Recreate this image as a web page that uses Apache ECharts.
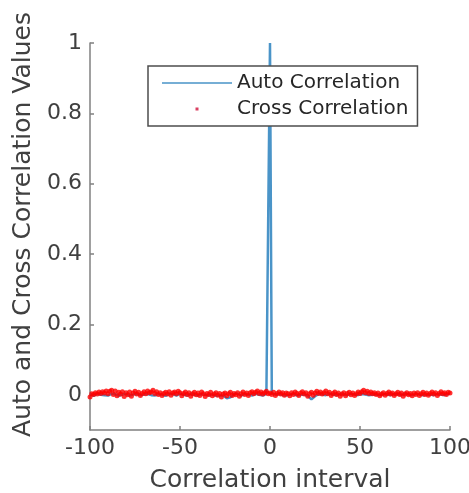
<!DOCTYPE html>
<html>
<head>
<meta charset="utf-8">
<script src="https://cdn.jsdelivr.net/npm/echarts@6/dist/echarts.min.js"></script>
<style>html,body{margin:0;padding:0;background:#fff;}#c{width:469px;height:493px;}</style>
</head>
<body>
<div id="c"></div>
<script>
var lagMin = -100, lagMax = 100;
var xTicks = [-100, -50, 0, 50, 100];
var yTicks = [0, 0.2, 0.4, 0.6, 0.8, 1];

var autoCorr = [
 0.004, 0.002,-0.003, 0.001, 0.003,-0.002, 0.000, 0.002,-0.001, 0.003,
-0.002, 0.001, 0.003,-0.001, 0.002, 0.000,-0.003, 0.002, 0.001,-0.002,
 0.003, 0.000,-0.002, 0.002, 0.001,-0.003, 0.002, 0.000,-0.001, 0.003,
 0.001,-0.002, 0.002, 0.000,-0.001, 0.003,-0.002, 0.001, 0.002,-0.001,
 0.000, 0.002,-0.003, 0.001, 0.003,-0.001, 0.002, 0.000,-0.002, 0.001,
 0.003,-0.001, 0.000, 0.002,-0.002, 0.001, 0.003,-0.001, 0.000, 0.002,
-0.002, 0.001, 0.002,-0.001, 0.000, 0.003,-0.002, 0.001, 0.001,-0.001,
-0.003, 0.001,-0.002, 0.000,-0.002,-0.005,-0.010,-0.013,-0.007,-0.002,
 0.002,-0.001, 0.003, 0.000,-0.002, 0.001, 0.002,-0.001, 0.000, 0.002,
-0.002, 0.001, 0.003,-0.001, 0.000, 0.002,-0.002, 0.001, 0.003, 0.004,
 1.000, 0.004, 0.003, 0.001,-0.002, 0.002, 0.000,-0.001, 0.001,-0.002,
 0.002, 0.000,-0.001, 0.003, 0.001,-0.002, 0.002, 0.000,-0.001, 0.001,
 0.001,-0.003,-0.008,-0.013,-0.010,-0.004, 0.000, 0.002,-0.001, 0.001,
 0.002,-0.001, 0.000, 0.003,-0.002, 0.001, 0.002,-0.001, 0.000, 0.002,
-0.002, 0.001, 0.003,-0.001, 0.000, 0.002,-0.002, 0.001, 0.002,-0.001,
 0.000, 0.002,-0.003, 0.001, 0.003,-0.001, 0.002, 0.000,-0.002, 0.001,
 0.003,-0.001, 0.000, 0.002,-0.002, 0.001, 0.003,-0.001, 0.000, 0.002,
-0.002, 0.001, 0.002,-0.001, 0.000, 0.003,-0.002, 0.001, 0.002,-0.001,
 0.000, 0.002,-0.003, 0.001, 0.003,-0.001, 0.002, 0.000,-0.002, 0.001,
 0.003,-0.001, 0.000, 0.002,-0.002, 0.001, 0.003,-0.001, 0.000, 0.002,
 0.003
];

var crossCorr = [
-0.006, 0.003, 0.001, 0.006, 0.002, 0.008, 0.004, 0.009, 0.005, 0.011,
 0.003, 0.010, 0.013, 0.001, 0.011,-0.003, 0.007, 0.002, 0.009,-0.005,
 0.006, 0.000, 0.008,-0.004, 0.005, 0.010, 0.002, 0.007,-0.002, 0.004,
 0.009, 0.003, 0.011, 0.006, 0.008, 0.013, 0.004, 0.009, 0.001, 0.006,
-0.002, 0.004, 0.007, 0.002, 0.009,-0.001, 0.005, 0.008, 0.003, 0.010,
 0.006,-0.003, 0.004, 0.008, 0.001, 0.006,-0.004, 0.003, 0.007, 0.000,
 0.005,-0.002, 0.008, 0.003,-0.005, 0.004, 0.001, 0.007,-0.003, 0.002,
 0.006,-0.001, 0.004,-0.006, 0.002, 0.005,-0.003, 0.003, 0.007,-0.002,
 0.004, 0.000, 0.006,-0.004, 0.003, 0.008, 0.001, 0.005,-0.002, 0.006,
 0.009, 0.003, 0.007, 0.011, 0.004, 0.008, 0.002, 0.006, 0.010, 0.003,
 0.005, 0.001, 0.007,-0.002, 0.004, 0.008, 0.002, 0.006,-0.001, 0.005,
 0.003,-0.003, 0.006, 0.001, 0.008, 0.004,-0.002, 0.005, 0.009, 0.002,
 0.006,-0.004, 0.003, 0.007,-0.001, 0.005, 0.010, 0.004, 0.008, 0.002,
 0.006, 0.011, 0.003, 0.007,-0.002, 0.004, 0.008, 0.001, 0.005,-0.004,
 0.002, 0.006,-0.003, 0.004, 0.007, 0.000, 0.005,-0.002, 0.003, 0.008,
 0.004, 0.009, 0.013, 0.006, 0.010, 0.004, 0.008, 0.003, 0.006, 0.001,
 0.005,-0.003, 0.002, 0.006,-0.001, 0.004, 0.008, 0.002, 0.005,-0.002,
 0.003, 0.007, 0.001, 0.005,-0.004, 0.002, 0.006, 0.000, 0.004,-0.003,
 0.005, 0.001, 0.006,-0.002, 0.003, 0.007, 0.001, 0.005,-0.001, 0.004,
 0.008, 0.002, 0.006,-0.002, 0.004, 0.009, 0.003, 0.006, 0.001, 0.007,
 0.005
];

var lags = [];
for (var k = lagMin; k <= lagMax; k++) lags.push(k);
var autoData = lags.map(function (l, i) { return [l, autoCorr[i]]; });
var crossData = lags.map(function (l, i) { return [l, crossCorr[i]]; });

var font = 'DejaVu Sans';
var axisColor = '#808080';
var textColor = '#404040';
var blue = '#4a94c8';

var chart = echarts.init(document.getElementById('c'), null, { renderer: 'canvas' });
chart.setOption({
  animation: false,
  backgroundColor: '#ffffff',
  textStyle: { fontFamily: font },
  grid: { left: 90, right: 19, top: 43, bottom: 63, containLabel: false, outerBoundsMode: 'none' },
  legend: {
    orient: 'vertical',
    left: 148,
    top: 66,
    padding: [6, 9, 6, 14],
    itemWidth: 70,
    itemHeight: 14,
    itemGap: 4,
    backgroundColor: '#ffffff',
    borderColor: '#4d4d4d',
    borderWidth: 1.5,
    borderRadius: 0,
    textStyle: { fontFamily: font, fontSize: 20, color: '#262626', lineHeight: 22 },
    data: [
      { name: 'Auto Correlation',
        icon: 'path://M0,0 L0.01,0.01 Z M0,6.2 L70,6.2 L70,7.8 L0,7.8 Z M70,14 L69.99,13.99 Z',
        itemStyle: { color: blue } },
      { name: 'Cross Correlation',
        icon: 'path://M0,0 L0.01,0.01 Z M33.5,5.5 L36.5,5.5 L36.5,8.5 L33.5,8.5 Z M70,14 L69.99,13.99 Z',
        itemStyle: { color: '#d0103a' } }
    ]
  },
  xAxis: {
    type: 'value',
    min: lagMin,
    max: lagMax,
    interval: 50,
    name: 'Correlation interval',
    nameLocation: 'middle',
    nameGap: 38,
    nameTextStyle: { fontFamily: font, fontSize: 25, color: textColor },
    axisLine: { onZero: false, lineStyle: { color: axisColor, width: 1.5 } },
    axisTick: { show: true, inside: true, length: 4, lineStyle: { color: axisColor, width: 1.5 }, customValues: xTicks },
    axisLabel: { fontFamily: font, fontSize: 22, color: textColor, margin: 7, customValues: xTicks },
    splitLine: { show: false }
  },
  yAxis: {
    type: 'value',
    min: -0.1,
    max: 1,
    name: 'Auto and Cross Correlation Values',
    nameLocation: 'middle',
    nameGap: 52,
    nameTextStyle: { fontFamily: font, fontSize: 25, color: textColor, padding: [0, 0, 0, 24] },
    axisLine: { show: true, onZero: false, lineStyle: { color: axisColor, width: 1.5 } },
    axisTick: { show: true, inside: true, length: 4, lineStyle: { color: axisColor, width: 1.5 }, customValues: yTicks },
    axisLabel: { fontFamily: font, fontSize: 22, color: textColor, margin: 8, customValues: yTicks,
      formatter: function (v) { return String(Math.round(v * 10) / 10); } },
    splitLine: { show: false }
  },
  series: [
    {
      name: 'Auto Correlation',
      type: 'line',
      data: autoData,
      symbol: 'none',
      showSymbol: false,
      lineStyle: { color: blue, width: 2.5 },
      itemStyle: { color: blue },
      z: 2
    },
    {
      name: 'Cross Correlation',
      type: 'scatter',
      data: crossData,
      symbol: 'circle',
      symbolSize: 5,
      itemStyle: { color: '#ff0000' },
      z: 3
    }
  ]
});
</script>
</body>
</html>
